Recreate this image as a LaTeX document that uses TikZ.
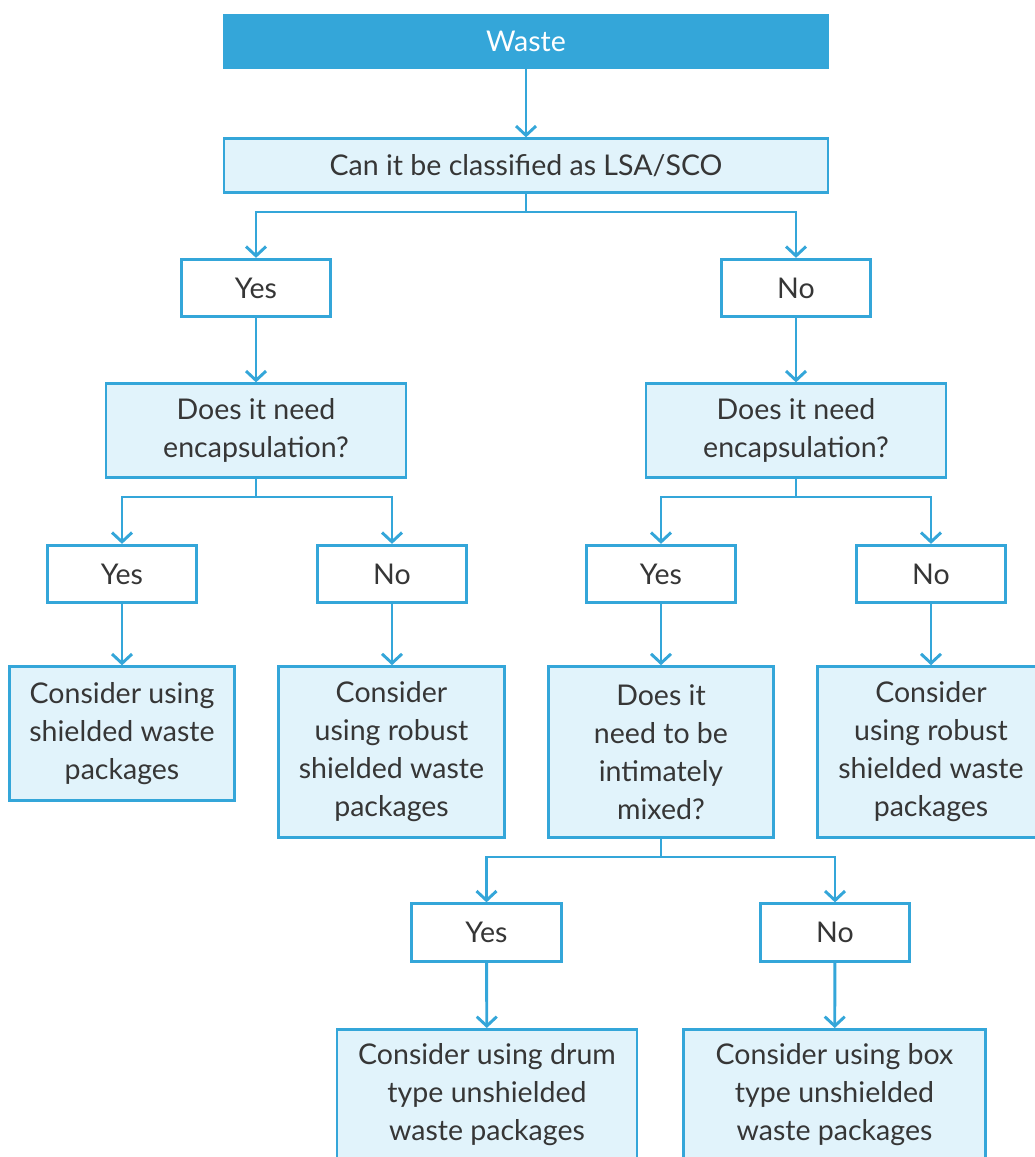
\documentclass[tikz,border=0pt]{standalone}
\usepackage{fontspec}
\setmainfont{Lato}
\usetikzlibrary{arrows.meta}
\definecolor{wblue}{HTML}{34A6D9}
\definecolor{wlight}{HTML}{E1F3FB}
\definecolor{wtext}{HTML}{363636}
\tikzset{
        x=0.75pt, y=-0.75pt, % one unit is one pixel of the layout
        every node/.style={font=\fontsize{21.4}{28.5}\selectfont, text=wtext, align=center, inner sep=0pt},
        topbox/.style={fill=wblue, text=white, minimum width=454pt, minimum height=41pt},
        askbox/.style={draw=wblue, line width=2.2pt, fill=wlight}, % question and result boxes
        ansbox/.style={draw=wblue, line width=2.2pt, fill=white, minimum width=112pt, minimum height=43pt}, % yes / no boxes
        arr/.style={draw=wblue, line width=2.2pt, -{Straight Barb[length=7pt,width=15pt,line width=2.2pt]}},
    }
\begin{document}
\begin{tikzpicture}
    \useasboundingbox (0,0) rectangle (1035,1157);
    \node[topbox] (waste) at (526,41.5) {Waste};
    \node[askbox, minimum width=453pt, minimum height=40pt] (lsa) at (526,165.5) {Can it be classified as LSA/SCO};
    \node[ansbox] (yesA) at (256,288) {Yes};
    \node[ansbox] (noA) at (796,288) {No};
    \node[askbox, minimum width=225pt, minimum height=70pt] (needL) at (256,430.5) {Does it need\\encapsulation?};
    \node[askbox, minimum width=225pt, minimum height=70pt] (needR) at (796,430.5) {Does it need\\encapsulation?};
    \node[ansbox] (yesB) at (122,574) {Yes};
    \node[ansbox] (noB) at (392,574) {No};
    \node[ansbox] (yesC) at (661,574) {Yes};
    \node[ansbox] (noC) at (931,574) {No};
    \node[askbox, minimum width=169pt, minimum height=100pt] (shield) at (122,733.5) {Consider using\\shielded waste\\packages};
    \node[askbox, minimum width=169pt, minimum height=128pt] (robustL) at (391.5,752) {Consider\\using robust\\shielded waste\\packages};
    \node[askbox, minimum width=169pt, minimum height=128pt] (mixed) at (661,752) {Does it\\need to be\\intimately\\mixed?};
    \node[askbox, minimum width=170pt, minimum height=128pt] (robustR) at (931,752) {Consider\\using robust\\shielded waste\\packages};
    \node[ansbox] (yesD) at (486.5,932.5) {Yes};
    \node[ansbox] (noD) at (835,932.5) {No};
    \node[askbox, minimum width=225pt, minimum height=100pt, anchor=north] (drum) at (487,1028) {};
    \node[askbox, minimum width=226pt, minimum height=100pt, anchor=north] (box) at (834.5,1028) {};
    \node (drumtext) at (487,1095) {Consider using drum\\type unshielded\\waste packages};
    \node (boxtext) at (834.5,1095) {Consider using box\\type unshielded\\waste packages};
    % connectors
    \draw[arr] (waste) -- (lsa);
    \draw[arr] (lsa.south) -- (526,212) coordinate (jA) -| (yesA.north);
    \draw[arr] (jA) -| (noA.north);
    \draw[arr] (yesA) -- (needL);
    \draw[arr] (noA) -- (needR);
    \draw[arr] (needL.south) -- (256,497) coordinate (jB) -| (yesB.north);
    \draw[arr] (jB) -| (noB.north);
    \draw[arr] (needR.south) -- (796,497) coordinate (jC) -| (yesC.north);
    \draw[arr] (jC) -| (noC.north);
    \draw[arr] (yesB) -- (shield.north -| yesB);
    \draw[arr] (noB) -- (robustL.north -| noB);
    \draw[arr] (yesC) -- (mixed);
    \draw[arr] (noC) -- (robustR);
    \draw[arr] (mixed.south) -- (661,857) coordinate (jD) -| (yesD.north);
    \draw[arr] (jD) -| (noD.north);
    \draw[arr] (yesD) -- (drum);
    \draw[arr] (noD) -- (box);
\end{tikzpicture}
\end{document}
